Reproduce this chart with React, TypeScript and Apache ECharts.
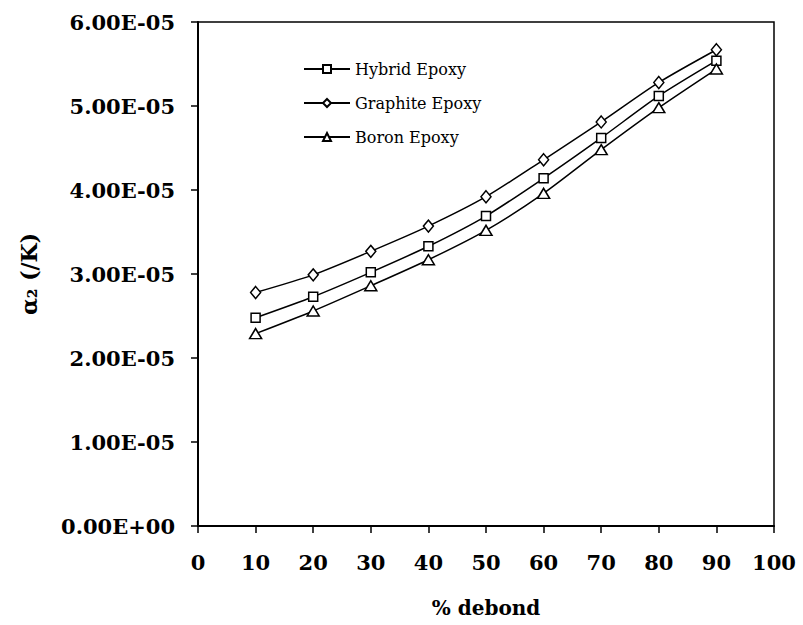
import React, { useEffect, useRef } from "react";
import * as echarts from "echarts";

// Percentage of debonding along the x axis
const debond = [10, 20, 30, 40, 50, 60, 70, 80, 90];

// Transverse thermal expansion coefficient α2 (/K) for each composite
const hybridEpoxy = [2.48e-5, 2.73e-5, 3.02e-5, 3.33e-5, 3.69e-5, 4.14e-5, 4.62e-5, 5.12e-5, 5.54e-5];
const graphiteEpoxy = [2.78e-5, 2.99e-5, 3.27e-5, 3.57e-5, 3.92e-5, 4.36e-5, 4.81e-5, 5.28e-5, 5.67e-5];
const boronEpoxy = [2.29e-5, 2.56e-5, 2.86e-5, 3.17e-5, 3.52e-5, 3.96e-5, 4.48e-5, 4.98e-5, 5.44e-5];

const seriesNames = ["Hybrid Epoxy", "Graphite Epoxy", "Boron Epoxy"];

const FONT = "'DejaVu Serif', serif";

// Formats a value like 6.00E-05 / 0.00E+00
function sciLabel(v: number): string {
  if (v === 0) return "0.00E+00";
  const exp = Math.floor(Math.log10(Math.abs(v)) + 1e-9);
  const mant = v / Math.pow(10, exp);
  const sign = exp < 0 ? "-" : "+";
  const e = String(Math.abs(exp)).padStart(2, "0");
  return `${mant.toFixed(2)}E${sign}${e}`;
}

export default function App() {
  const ref = useRef<HTMLDivElement>(null);

  useEffect(() => {
    if (!ref.current) return;
    const chart = echarts.init(ref.current, undefined, { renderer: "svg" });

    const makeSeries = (name: string, values: number[], symbol: string, size: any) => ({
      name,
      type: "line",
      data: debond.map((x, i) => [x, values[i]]),
      smooth: 0.25,
      symbol,
      symbolSize: size,
      showSymbol: true,
      lineStyle: { color: "#000", width: 1.5 },
      itemStyle: { color: "#fff", borderColor: "#000", borderWidth: 1.5 },
      emphasis: { disabled: true },
    });

    chart.setOption({
      animation: false,
      backgroundColor: "#fff",
      grid: {
        left: 198,
        right: 29,
        top: 22,
        bottom: 99,
        show: true,
        borderColor: "#000",
        borderWidth: 1.5,
      },
      legend: {
        orient: "vertical",
        left: 298,
        top: 55,
        itemWidth: 46,
        itemHeight: 10,
        itemGap: 16,
        data: seriesNames,
        textStyle: { fontFamily: FONT, fontSize: 16, color: "#000", lineHeight: 18 },
      },
      xAxis: {
        type: "value",
        min: 0,
        max: 100,
        interval: 10,
        name: "% debond",
        nameLocation: "middle",
        nameGap: 72,
        nameTextStyle: { fontFamily: FONT, fontSize: 20, color: "#000", fontWeight: "bold" },
        axisLine: { lineStyle: { color: "#000", width: 2 } },
        axisTick: { show: true, inside: false, length: 7, lineStyle: { color: "#000", width: 1.5 } },
        axisLabel: { fontFamily: FONT, fontSize: 21, color: "#000", margin: 26, fontWeight: "bold" },
        splitLine: { show: false },
      },
      yAxis: {
        type: "value",
        min: 0,
        max: 6e-5,
        interval: 1e-5,
        name: "α₂ (/K)",
        nameLocation: "middle",
        nameGap: 158,
        nameRotate: 90,
        nameTextStyle: { fontFamily: FONT, fontSize: 22, color: "#000", fontWeight: "bold" },
        axisLine: { lineStyle: { color: "#000", width: 2 } },
        axisTick: { show: true, inside: false, length: 7, lineStyle: { color: "#000", width: 1.5 } },
        axisLabel: {
          fontFamily: FONT,
          fontSize: 21,
          color: "#000",
          margin: 23,
          fontWeight: "bold",
          formatter: (v: number) => sciLabel(v),
        },
        splitLine: { show: false },
      },
      series: [
        makeSeries(seriesNames[0], hybridEpoxy, "rect", 9),
        makeSeries(seriesNames[1], graphiteEpoxy, "diamond", [10, 12]),
        makeSeries(seriesNames[2], boronEpoxy, "triangle", [12, 10]),
      ],
    });

    return () => chart.dispose();
  }, []);

  return <div ref={ref} style={{ width: 803, height: 625, position: "absolute", left: 0, top: 0 }} />;
}
